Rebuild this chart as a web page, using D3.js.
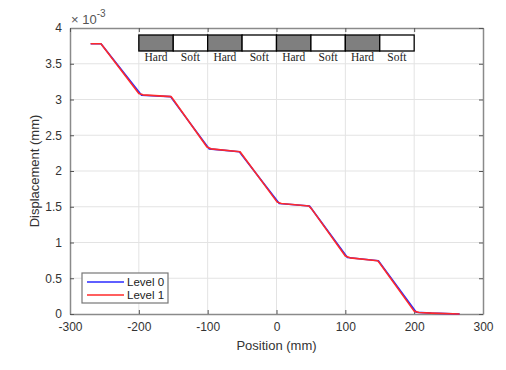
<!DOCTYPE html>
<html>
<head>
<meta charset="utf-8">
<script src="https://cdn.jsdelivr.net/npm/d3@7"></script>
<style>
  body { margin: 0; background: #fff; }
  svg text { font-family: "Liberation Sans", Arial, sans-serif; }
</style>
</head>
<body>
<svg id="chart" width="506" height="370"></svg>
<script>
// data (displacement in units of 1e-3 mm)
var level0X = [-270, -255, -196, -154, -98, -54, 4, 48, 103, 148, 203, 225, 266];
var level0Y = [3.78, 3.78, 3.06, 3.04, 2.31, 2.27, 1.545, 1.51, 0.79, 0.745, 0.025, 0.012, 0.0];
var level1X = [-270, -255, -200, -194, -153, -150, -101, -95, -53, -50, 1, 7, 47, 51, 100, 107, 147, 150, 200, 207, 225, 266];
var level1Y = [3.78, 3.78, 3.085, 3.065, 3.04, 3.0, 2.335, 2.31, 2.27, 2.23, 1.565, 1.545, 1.51, 1.47, 0.81, 0.785, 0.745, 0.71, 0.04, 0.02, 0.012, 0.0];
var xTicks = [-300, -200, -100, 0, 100, 200, 300];
var yTicks = [0, 0.5, 1, 1.5, 2, 2.5, 3, 3.5, 4];
var segStarts = [-200, -150, -100, -50, 0, 50, 100, 150];
var segLabels = ["Hard", "Soft", "Hard", "Soft", "Hard", "Soft", "Hard", "Soft"];
var legendNames = ["Level 0", "Level 1"];
var lineColors = ["#2a2aff", "#ff2a2a"];

var svg = d3.select("#chart");
var mLeft = 70, mRight = 483, mTop = 28, mBottom = 314;

var x = d3.scaleLinear().domain([-300, 300]).range([mLeft, mRight]);
var y = d3.scaleLinear().domain([0, 4]).range([mBottom, mTop]);

// grid
svg.append("g").selectAll("line").data(xTicks.slice(1, -1)).enter().append("line")
   .attr("x1", function(d) { return x(d) }).attr("x2", function(d) { return x(d) })
   .attr("y1", mTop).attr("y2", mBottom)
   .attr("stroke", "#e3e3e3").attr("stroke-width", 1);
svg.append("g").selectAll("line").data(yTicks.slice(1, -1)).enter().append("line")
   .attr("y1", function(d) { return y(d) }).attr("y2", function(d) { return y(d) })
   .attr("x1", mLeft).attr("x2", mRight)
   .attr("stroke", "#e3e3e3").attr("stroke-width", 1);

// axes
var xAxis = d3.axisBottom(x).tickValues(xTicks).tickSizeInner(-4).tickSizeOuter(0).tickPadding(8)
              .tickFormat(function(d) { return d < 0 ? "-" + Math.abs(d) : d });
var gx = svg.append("g").attr("transform", "translate(0," + mBottom + ")").call(xAxis);
var yAxis = d3.axisLeft(y).tickValues(yTicks).tickSizeInner(-4).tickSizeOuter(0).tickPadding(8)
              .tickFormat(function(d) { return d });
var gy = svg.append("g").attr("transform", "translate(" + mLeft + ",0)").call(yAxis);
var gx2 = svg.append("g").attr("transform", "translate(0," + mTop + ")")
             .call(d3.axisTop(x).tickValues(xTicks).tickSizeInner(-4).tickSizeOuter(0).tickFormat(""));
var gy2 = svg.append("g").attr("transform", "translate(" + mRight + ",0)")
             .call(d3.axisRight(y).tickValues(yTicks).tickSizeInner(-4).tickSizeOuter(0).tickFormat(""));

[gx, gy, gx2, gy2].forEach(function(g) {
  g.select(".domain").attr("stroke", "#8a8a8a").attr("stroke-width", 1.5);
  g.selectAll(".tick line").attr("stroke", "#555");
  g.selectAll(".tick text").attr("fill", "#333").style("font-size", "12px");
});

// exponent label
var expo = svg.append("text").attr("x", mLeft + 1).attr("y", 24).attr("fill", "#555").style("font-size", "13px");
expo.append("tspan").text("\u00d7 10");
expo.append("tspan").attr("dy", -7).style("font-size", "10px").text("-3");

// hard / soft strip
var segW = 50;
svg.append("g").selectAll("rect").data(segStarts).enter().append("rect")
   .attr("x", function(d) { return x(d) })
   .attr("y", 35)
   .attr("width", function(d) { return x(d + segW) - x(d) })
   .attr("height", 16)
   .attr("fill", function(d, i) { return i % 2 == 0 ? "#7f7f7f" : "#fff" })
   .attr("stroke", "#000").attr("stroke-width", 1.3);
svg.append("g").selectAll("text").data(segStarts).enter().append("text")
   .attr("x", function(d) { return x(d + segW / 2) })
   .attr("y", 61)
   .attr("text-anchor", "middle")
   .style("font-family", "'Liberation Serif', 'Times New Roman', serif")
   .style("font-size", "11.5px")
   .attr("fill", "#222")
   .text(function(d, i) { return segLabels[i] });

// lines
var makeLine = d3.line()
                 .x(function(d) { return x(d[0]) })
                 .y(function(d) { return y(d[1]) });
var series = [d3.zip(level0X, level0Y), d3.zip(level1X, level1Y)];
series.forEach(function(s, i) {
  svg.append("path").datum(s)
     .attr("fill", "none")
     .attr("stroke", lineColors[i])
     .attr("stroke-width", 1.6)
     .attr("stroke-linejoin", "round")
     .attr("d", makeLine);
});

// legend
var lg = svg.append("g").attr("transform", "translate(82,273)");
lg.append("rect").attr("width", 86).attr("height", 30)
  .attr("fill", "#fff").attr("stroke", "#777").attr("stroke-width", 1.2);
legendNames.forEach(function(n, i) {
  lg.append("line").attr("x1", 5).attr("x2", 42).attr("y1", 9 + i * 13).attr("y2", 9 + i * 13)
    .attr("stroke", lineColors[i]).attr("stroke-width", 1.6);
  lg.append("text").attr("x", 45).attr("y", 13 + i * 13).attr("fill", "#222")
    .style("font-size", "11.5px").text(n);
});

// axis titles
svg.append("text").attr("x", (mLeft + mRight) / 2).attr("y", 350).attr("text-anchor", "middle")
   .attr("fill", "#333").style("font-size", "13px").text("Position (mm)");
svg.append("text").attr("transform", "translate(39," + ((mTop + mBottom) / 2) + ") rotate(-90)")
   .attr("text-anchor", "middle").attr("fill", "#333").style("font-size", "13px")
   .text("Displacement (mm)");
</script>
</body>
</html>
